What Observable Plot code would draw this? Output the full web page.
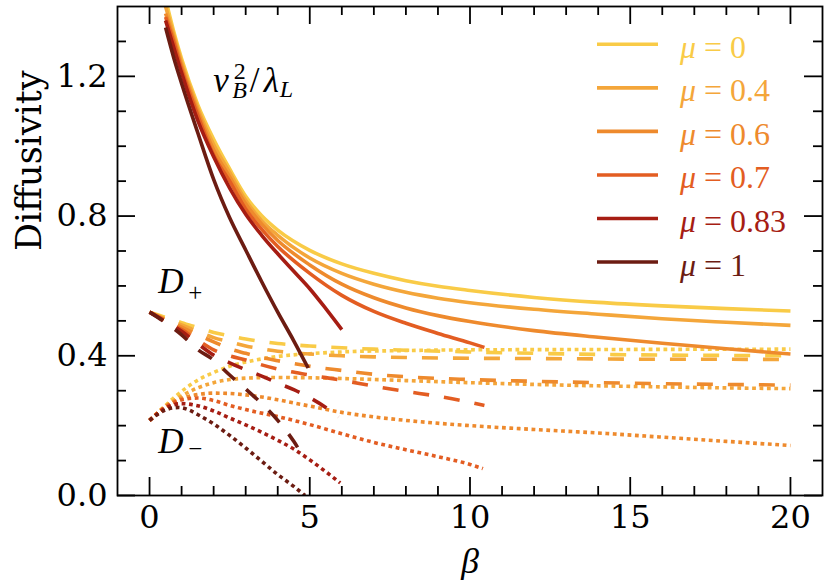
<!DOCTYPE html>
<html>
<head>
<meta charset="utf-8">
<script src="https://cdn.jsdelivr.net/npm/d3@7"></script>
<script src="https://cdn.jsdelivr.net/npm/@observablehq/plot@0.6"></script>
<style>
  body { margin: 0; background: #fff; }
  #chart svg { display: block; }
</style>
</head>
<body>
<div id="chart"></div>
<script>
// ---------- data ----------
const muLabels = ["0", "0.4", "0.6", "0.7", "0.83", "1"];
const muColors = ["#F9CB47", "#F4A63A", "#EE8A2D", "#E35D22", "#A61D13", "#6C1C12"];

// v_B^2 / lambda_L  (solid)  [beta, value]
const vB_mu0 = [[0.53,1.41],[0.75,1.33],[1,1.25],[1.5,1.12],[2,1.02],[2.5,0.935],[3,0.857],[3.5,0.801],[4,0.76],[5,0.702],[6,0.663],[7,0.636],[8,0.615],[9,0.599],[10,0.587],[12,0.567],[14,0.553],[16,0.543],[18,0.535],[20,0.528]];
const vB_mu04 = [[0.5,1.40],[0.75,1.32],[1,1.24],[1.5,1.11],[2,1.005],[2.5,0.925],[3,0.845],[3.5,0.787],[4,0.745],[5,0.68],[6,0.636],[7,0.605],[8,0.582],[9,0.565],[10,0.552],[12,0.533],[14,0.519],[16,0.506],[18,0.496],[20,0.487]];
const vB_mu06 = [[0.5,1.38],[0.75,1.31],[1,1.23],[1.5,1.10],[2,0.99],[2.5,0.912],[3,0.835],[3.5,0.777],[4,0.73],[5,0.66],[6,0.605],[7,0.566],[8,0.537],[9,0.515],[10,0.498],[12,0.472],[14,0.453],[16,0.436],[18,0.42],[20,0.405]];
const vB_mu07 = [[0.5,1.37],[0.75,1.30],[1,1.22],[1.5,1.09],[2,0.975],[2.5,0.9],[3,0.82],[3.5,0.762],[4,0.713],[5,0.636],[6,0.573],[7,0.527],[8,0.493],[9,0.464],[10,0.437],[10.45,0.424]];
const vB_mu083 = [[0.5,1.36],[0.75,1.285],[1,1.21],[1.5,1.075],[2,0.97],[2.5,0.88],[3,0.805],[3.5,0.745],[4,0.692],[4.5,0.642],[5,0.592],[5.5,0.535],[6,0.475]];
const vB_mu1 = [[0.5,1.34],[0.75,1.255],[1,1.18],[1.5,1.04],[2,0.905],[2.5,0.795],[3,0.703],[3.5,0.612],[4,0.525],[4.5,0.443],[4.95,0.365]];

// D_+  (dashed)
const Dp_mu0 = [[0,0.525],[0.5,0.51],[1,0.495],[1.5,0.481],[2,0.467],[2.5,0.457],[3,0.448],[3.5,0.441],[4,0.435],[4.5,0.431],[5,0.428],[6,0.423],[7,0.419],[8,0.416],[10,0.411],[12,0.407],[14,0.404],[16,0.402],[18,0.401],[20,0.40]];
const Dp_mu04 = [[0,0.525],[0.5,0.505],[1,0.488],[1.5,0.47],[2,0.452],[2.5,0.44],[3,0.428],[3.5,0.42],[4,0.413],[5,0.405],[6,0.4],[7,0.397],[8,0.395],[10,0.393],[12,0.392],[14,0.391],[16,0.39],[18,0.39],[20,0.389]];
const Dp_mu06 = [[0,0.525],[0.5,0.503],[1,0.482],[1.5,0.46],[2,0.44],[2.5,0.42],[3,0.407],[3.5,0.395],[4,0.386],[5,0.37],[6,0.358],[7,0.347],[8,0.34],[10,0.332],[12,0.327],[14,0.323],[16,0.32],[18,0.318],[20,0.316]];
const Dp_mu07 = [[0,0.525],[0.5,0.5],[1,0.475],[1.5,0.445],[2,0.417],[2.5,0.4],[3,0.388],[3.5,0.374],[4,0.362],[5,0.345],[6,0.33],[7,0.313],[8,0.298],[9,0.284],[10,0.267],[10.45,0.258]];
const Dp_mu083 = [[0,0.525],[0.5,0.498],[1,0.47],[1.5,0.435],[2,0.402],[2.5,0.38],[3,0.36],[3.5,0.342],[4,0.322],[4.5,0.303],[5,0.28],[5.5,0.252],[5.9,0.225]];
const Dp_mu1 = [[0,0.525],[0.5,0.495],[1,0.46],[1.5,0.418],[2,0.388],[2.5,0.345],[3,0.305],[3.5,0.263],[4,0.215],[4.5,0.155],[4.8,0.11]];

// D_-  (dotted)
const Dm_mu0 = [[0,0.215],[0.25,0.237],[0.5,0.258],[0.75,0.279],[1,0.298],[1.5,0.33],[2,0.352],[2.5,0.37],[3,0.382],[3.5,0.391],[4,0.398],[5,0.406],[6,0.411],[8,0.415],[10,0.417],[14,0.418],[20,0.419]];
const Dm_mu04 = [[0,0.215],[0.5,0.255],[1,0.285],[1.5,0.308],[2,0.323],[2.5,0.332],[3,0.336],[4,0.338],[5,0.337],[6,0.335],[8,0.329],[10,0.323],[12,0.318],[14,0.314],[16,0.311],[18,0.308],[20,0.306]];
const Dm_mu06 = [[0,0.215],[0.5,0.255],[1,0.278],[1.5,0.289],[2,0.293],[2.5,0.292],[3,0.288],[3.5,0.282],[4,0.274],[4.5,0.265],[5,0.256],[6,0.238],[7,0.225],[8,0.215],[10,0.2],[12,0.189],[14,0.179],[16,0.167],[18,0.155],[20,0.143]];
const Dm_mu07 = [[0,0.215],[0.5,0.253],[1,0.274],[1.5,0.279],[2,0.272],[2.5,0.258],[3,0.246],[4,0.226],[5,0.203],[6,0.177],[7,0.152],[8,0.131],[9,0.111],[10,0.089],[10.4,0.077]];
const Dm_mu083 = [[0,0.215],[0.5,0.25],[1,0.263],[1.5,0.257],[2,0.242],[2.5,0.222],[3,0.202],[3.5,0.181],[4,0.158],[4.5,0.133],[5,0.102],[5.5,0.068],[5.95,0.036]];
const Dm_mu1 = [[0,0.215],[0.5,0.245],[0.9,0.252],[1.25,0.244],[1.5,0.232],[2,0.205],[2.5,0.172],[3,0.136],[3.5,0.098],[4,0.06],[4.5,0.026],[4.85,0.0]];

// ticks
const xMajorTicks = [0, 5, 10, 15, 20];
const xMinorTicks = [1,2,3,4,6,7,8,9,11,12,13,14,16,17,18,19];
const yMajorTicks = [0, 0.4, 0.8, 1.2];
const yMinorTicks = [0.1,0.2,0.3,0.5,0.6,0.7,0.9,1.0,1.1,1.3];

// ---------- chart ----------
const vBSeries = [vB_mu0, vB_mu04, vB_mu06, vB_mu07, vB_mu083, vB_mu1];
const DpSeries = [Dp_mu0, Dp_mu04, Dp_mu06, Dp_mu07, Dp_mu083, Dp_mu1];
const DmSeries = [Dm_mu0, Dm_mu04, Dm_mu06, Dm_mu07, Dm_mu083, Dm_mu1];

const W = 830, H = 580, mL = 117, mR = 8, mT = 6, mB = 85;
const pw = W - mL - mR, ph = H - mT - mB;
const LW = 3.6;
const MAJ = 18, MIN = 9, TW = 1.8;
const SERIF = "DejaVu Serif";
const MATH = "Liberation Serif";

const lineMarks = [];
muLabels.forEach((m, i) => {
  const common = {x: d => d[0], y: d => d[1], stroke: muColors[i], strokeWidth: LW, curve: "monotone-x", clip: true, strokeLinecap: "butt"};
  lineMarks.push(Plot.line(vBSeries[i], common));
  lineMarks.push(Plot.line(DpSeries[i], {...common, strokeDasharray: "16,15"}));
  lineMarks.push(Plot.line(DmSeries[i], {...common, strokeDasharray: "3.8,3.6"}));
});

function legendMark(index, scales, values, dims) {
  const g = d3.create("svg:g").attr("text-anchor", "start");
  const x0 = dims.width - dims.marginRight - 225;
  muLabels.forEach((m, i) => {
    const y = 44.3 + i * 43.55;
    g.append("line").attr("x1", x0).attr("x2", x0 + 61).attr("y1", y).attr("y2", y)
      .attr("stroke", muColors[i]).attr("stroke-width", LW);
    const t = g.append("text").attr("x", x0 + 83).attr("y", y + 13.5)
      .attr("fill", muColors[i]).attr("font-family", MATH).attr("font-size", 32);
    t.append("tspan").attr("font-style", "italic").text("\u03bc");
    t.append("tspan").text(" = " + m);
  });
  return g.node();
}

// math-like annotation: one text element per expression, pieces as tspans
function mathText(g, px, py, pieces) {
  const t = g.append("text").attr("x", px).attr("y", py);
  pieces.forEach(p => {
    const s = t.append("tspan").attr("font-size", p.size)
      .attr("font-style", p.italic ? "italic" : "normal").text(p.s);
    if (p.dx) s.attr("dx", p.dx);
    if (p.dy) s.attr("dy", p.dy);
  });
  return t;
}

function annotationMark(index, {x, y}) {
  const g = d3.create("svg:g").attr("font-family", MATH).attr("fill", "black").attr("text-anchor", "start");
  // v_B^2 / lambda_L
  mathText(g, x(2.0), y(1.155), [
    {s: "v", size: 35, italic: true},
    {s: "B", size: 24, italic: true, dx: 3.5, dy: 6.6},
    {s: "2", size: 24, dx: -13.2, dy: -19.1},
    {s: "/", size: 35, dx: 4, dy: 12.5},
    {s: "\u03bb", size: 35, italic: true, dx: 4.3},
    {s: "L", size: 24, italic: true, dx: 1, dy: 5}
  ]);
  // D_+
  mathText(g, x(0.29), y(0.5775), [
    {s: "D", size: 35, italic: true},
    {s: "+", size: 25, dx: 4.7, dy: 8}
  ]);
  // D_-
  mathText(g, x(0.29), y(0.119), [
    {s: "D", size: 35, italic: true},
    {s: "\u2212", size: 25, dx: 4.7, dy: 4}
  ]);
  return g.node();
}

const chart = Plot.plot({
  width: W, height: H,
  marginLeft: mL, marginRight: mR, marginTop: mT, marginBottom: mB,
  style: {background: "#fff", fontFamily: SERIF, color: "black", overflow: "visible"},
  x: {domain: [-1, 21]},
  y: {domain: [0, 1.4]},
  marks: [
    ...lineMarks,
    Plot.frame({stroke: "black", strokeWidth: TW}),
    // inward ticks: bottom / top
    Plot.tickX(xMajorTicks, {x: d => d, insetTop: ph - MAJ, strokeWidth: TW}),
    Plot.tickX(xMinorTicks, {x: d => d, insetTop: ph - MIN, strokeWidth: TW}),
    Plot.tickX(xMajorTicks, {x: d => d, insetBottom: ph - MAJ, strokeWidth: TW}),
    Plot.tickX(xMinorTicks, {x: d => d, insetBottom: ph - MIN, strokeWidth: TW}),
    // inward ticks: left / right
    Plot.tickY(yMajorTicks, {y: d => d, insetRight: pw - MAJ, strokeWidth: TW}),
    Plot.tickY(yMinorTicks, {y: d => d, insetRight: pw - MIN, strokeWidth: TW}),
    Plot.tickY(yMajorTicks, {y: d => d, insetLeft: pw - MAJ, strokeWidth: TW}),
    Plot.tickY(yMinorTicks, {y: d => d, insetLeft: pw - MIN, strokeWidth: TW}),
    Plot.axisX({ticks: xMajorTicks, tickSize: 0, tickPadding: 10, tickFormat: d => String(d), fontSize: 32, fontFamily: SERIF, label: null}),
    Plot.axisY({ticks: yMajorTicks, tickSize: 0, tickPadding: 10, tickFormat: d3.format(".1f"), fontSize: 32, fontFamily: SERIF, label: null}),
    Plot.text(["Diffusivity"], {text: d => d, frameAnchor: "left", dx: -88, rotate: -90, fontSize: 35, fontFamily: SERIF, fill: "black"}),
    Plot.text(["\u03b2"], {text: d => d, frameAnchor: "bottom", lineAnchor: "top", dy: 52, fontSize: 36, fontFamily: MATH, fontStyle: "italic", fill: "black"}),
    annotationMark,
    legendMark
  ]
});
document.getElementById("chart").appendChild(chart);
</script>
</body>
</html>
